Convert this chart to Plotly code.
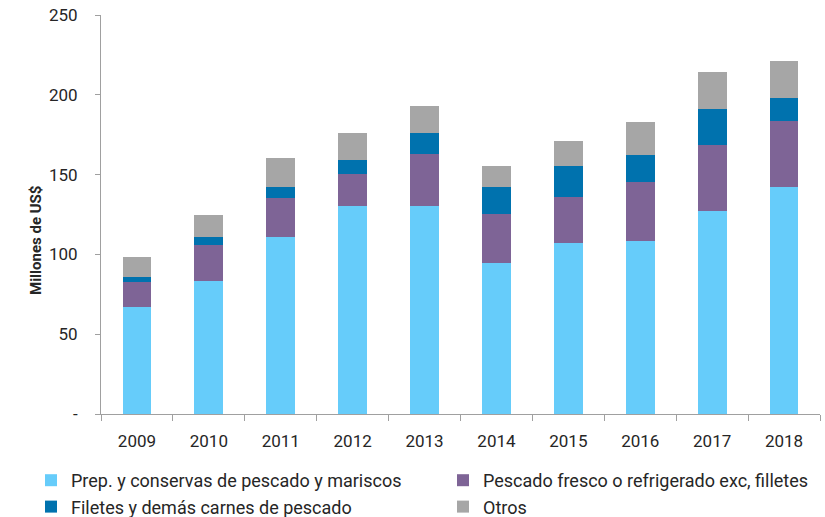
import plotly.graph_objects as go

years = ["2009", "2010", "2011", "2012", "2013", "2014", "2015", "2016", "2017", "2018"]
prep_conservas = [67.2, 83.3, 110.7, 130.5, 130.5, 94.8, 107.3, 108.2, 127.2, 142.2]
pescado_fresco = [15.2, 22.8, 24.8, 19.7, 32.4, 30.5, 28.9, 37.2, 41.3, 41.4]
filetes = [3.2, 4.6, 6.7, 8.8, 13.4, 16.9, 19.2, 16.7, 22.6, 14.2]
otros = [12.6, 14.0, 18.4, 17.3, 16.5, 13.2, 15.9, 20.9, 23.4, 23.4]

series_names = [
    "Prep. y conservas de pescado y mariscos",
    "Pescado fresco o refrigerado exc, filletes",
    "Filetes y demás carnes de pescado",
    "Otros",
]
series_values = [prep_conservas, pescado_fresco, filetes, otros]
series_colors = ["#66CCFA", "#7E6496", "#0072AE", "#A6A6A6"]
series_legends = ["legend", "legend2", "legend", "legend2"]

y_tickvals = [0, 50, 100, 150, 200, 250]
y_ticktext = ["-", "50", "100", "150", "200", "250"]
y_title = "Millones de US$"

FONT = "Roboto, Liberation Sans, Arial, sans-serif"

# plot area in pixels: x 101..820, y 15..414
L, R, T, B = 101, 5, 15, 103
PW = 825 - L - R
PH = 517 - T - B


def px_to_paper_x(px):
    return (px - L) / PW


def px_to_paper_y(py):
    return (517 - B - py) / PH


fig = go.Figure()
for name, vals, col, lg in zip(series_names, series_values, series_colors, series_legends):
    fig.add_trace(go.Bar(
        x=years, y=vals, name=name, marker=dict(color=col, line=dict(width=0)),
        legend=lg, legendgroup=name,
    ))

legend_common = dict(
    xref="paper", yref="paper", xanchor="left", yanchor="top",
    orientation="v", tracegroupgap=0, traceorder="normal",
    font=dict(family=FONT, size=18, color="#262626"), bgcolor="rgba(0,0,0,0)",
)

fig.add_annotation(
    text="<b>" + y_title + "</b>", textangle=-90, showarrow=False,
    xref="paper", yref="paper", x=px_to_paper_x(36), y=px_to_paper_y(241),
    xanchor="center", yanchor="middle",
    font=dict(family=FONT, size=15, color="#262626"),
)

fig.update_layout(
    width=825, height=517,
    barmode="stack", bargap=0.6,
    plot_bgcolor="white", paper_bgcolor="white",
    margin=dict(l=L, r=R, t=T, b=B, autoexpand=False),
    font=dict(family=FONT, color="#262626", size=14),
    xaxis=dict(
        type="category", showline=True, linecolor="#A0A0A0", linewidth=1,
        ticks="outside", tickson="boundaries", ticklen=6, tickcolor="#A0A0A0",
        tickfont=dict(size=17, color="#262626"), ticklabelstandoff=12,
        showgrid=False, zeroline=False,
    ),
    yaxis=dict(
        range=[0, 250], tickvals=y_tickvals, ticktext=y_ticktext,
        showline=True, linecolor="#A0A0A0", linewidth=1,
        ticks="outside", ticklen=5, tickcolor="#A0A0A0",
        tickfont=dict(size=17, color="#262626"), ticklabelstandoff=14,
        showgrid=False, zeroline=False,
    ),
    legend=dict(x=px_to_paper_x(31), y=px_to_paper_y(462), **legend_common),
    legend2=dict(x=px_to_paper_x(443), y=px_to_paper_y(462), **legend_common),
)

fig.write_html(
    "out.html",
    config={"displayModeBar": False},
    post_script="document.body.style.margin='0';document.body.style.padding='0';",
)
